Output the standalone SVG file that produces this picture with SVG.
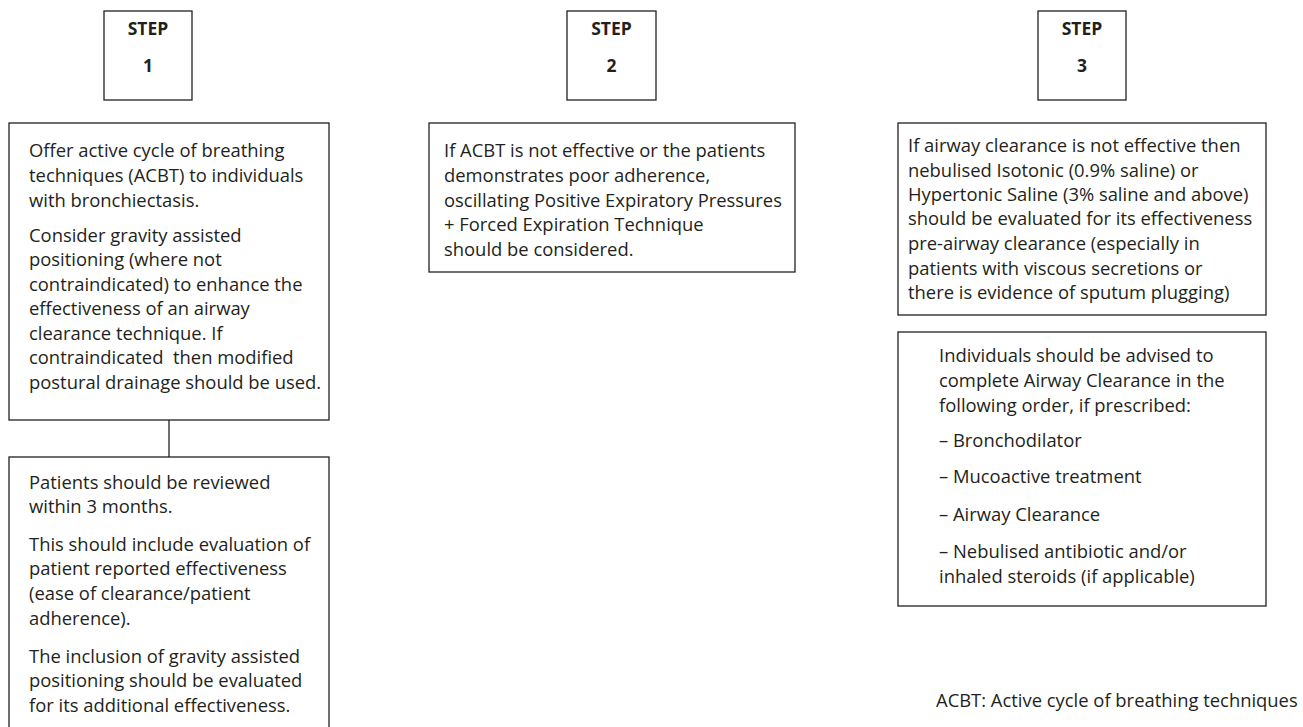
<svg xmlns="http://www.w3.org/2000/svg" width="1303" height="727" viewBox="0 0 1303 727">
<style>
.box{fill:#fff;stroke:#231f20;stroke-width:1.3}
.t{font-family:"Open Sans","Noto Sans","Liberation Sans",sans-serif;font-size:18.4px;fill:#231f20}
.s{font-family:"Open Sans","Noto Sans","Liberation Sans",sans-serif;font-size:17.5px;font-weight:bold;fill:#231f20;text-anchor:middle}
.c{stroke:#231f20;stroke-width:1.3;fill:none}
</style>
<rect width="1303" height="727" fill="#fff"/>
<g id="connectors">
<line class="c" x1="169" y1="420" x2="169" y2="457"/>
</g>
<g id="step1">
<rect class="box" x="104" y="11" width="88" height="89"/>
<text class="s" x="148" y="35">STEP</text>
<text class="s" x="148" y="72">1</text>
</g>
<g id="step2">
<rect class="box" x="567" y="11" width="89" height="89"/>
<text class="s" x="611.5" y="35">STEP</text>
<text class="s" x="611.5" y="72">2</text>
</g>
<g id="step3">
<rect class="box" x="1038" y="11" width="88" height="89"/>
<text class="s" x="1082" y="35">STEP</text>
<text class="s" x="1082" y="72">3</text>
</g>
<g id="acbt">
<rect class="box" x="9" y="123" width="320" height="297"/>
<text class="t" x="29" y="157">Offer active cycle of breathing</text>
<text class="t" x="29" y="182">techniques (ACBT) to individuals</text>
<text class="t" x="29" y="207">with bronchiectasis.</text>
<text class="t" x="29" y="242">Consider gravity assisted</text>
<text class="t" x="29" y="266">positioning (where not</text>
<text class="t" x="29" y="291">contraindicated) to enhance the</text>
<text class="t" x="29" y="315">effectiveness of an airway</text>
<text class="t" x="29" y="340">clearance technique. If</text>
<text class="t" x="29" y="364" xml:space="preserve">contraindicated  then modified</text>
<text class="t" x="29" y="389">postural drainage should be used.</text>
</g>
<g id="review">
<rect class="box" x="9" y="457" width="320" height="280"/>
<text class="t" x="29" y="489">Patients should be reviewed</text>
<text class="t" x="29" y="513">within 3 months.</text>
<text class="t" x="29" y="551">This should include evaluation of</text>
<text class="t" x="29" y="575">patient reported effectiveness</text>
<text class="t" x="29" y="600">(ease of clearance/patient</text>
<text class="t" x="29" y="625">adherence).</text>
<text class="t" x="29" y="663">The inclusion of gravity assisted</text>
<text class="t" x="29" y="687">positioning should be evaluated</text>
<text class="t" x="29" y="712">for its additional effectiveness.</text>
</g>
<g id="pep">
<rect class="box" x="429" y="123" width="366" height="149"/>
<text class="t" x="444" y="157">If ACBT is not effective or the patients</text>
<text class="t" x="444" y="182">demonstrates poor adherence,</text>
<text class="t" x="444" y="207">oscillating Positive Expiratory Pressures</text>
<text class="t" x="444" y="231">+ Forced Expiration Technique</text>
<text class="t" x="444" y="256">should be considered.</text>
</g>
<g id="saline">
<rect class="box" x="898" y="123" width="368" height="192"/>
<text class="t" x="908" y="152">If airway clearance is not effective then</text>
<text class="t" x="908" y="177">nebulised Isotonic (0.9% saline) or</text>
<text class="t" x="908" y="201">Hypertonic Saline (3% saline and above)</text>
<text class="t" x="908" y="225">should be evaluated for its effectiveness</text>
<text class="t" x="908" y="250">pre-airway clearance (especially in</text>
<text class="t" x="908" y="275">patients with viscous secretions or</text>
<text class="t" x="908" y="299">there is evidence of sputum plugging)</text>
</g>
<g id="order">
<rect class="box" x="898" y="332" width="368" height="274"/>
<text class="t" x="939" y="362">Individuals should be advised to</text>
<text class="t" x="939" y="387">complete Airway Clearance in the</text>
<text class="t" x="939" y="412">following order, if prescribed:</text>
<text class="t" x="939" y="447">– Bronchodilator</text>
<text class="t" x="939" y="483">– Mucoactive treatment</text>
<text class="t" x="939" y="521">– Airway Clearance</text>
<text class="t" x="939" y="558">– Nebulised antibiotic and/or</text>
<text class="t" x="939" y="583">inhaled steroids (if applicable)</text>
</g>
<g id="footnote">
<text class="t" x="936" y="707">ACBT: Active cycle of breathing techniques</text>
</g>
</svg>
